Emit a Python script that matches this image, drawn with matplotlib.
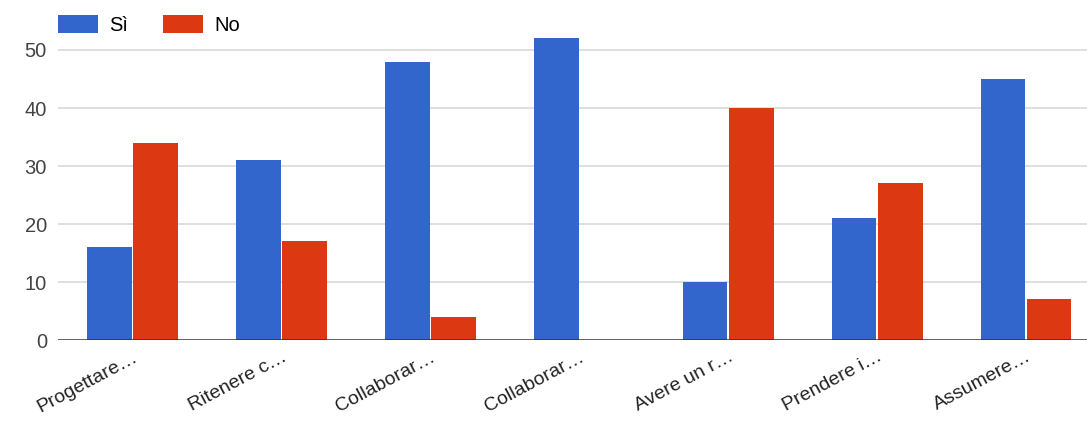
import matplotlib
matplotlib.use("Agg")
import matplotlib.pyplot as plt
import numpy as np

categories = ["Progettare…", "Ritenere c…", "Collaborar…", "Collaborar…",
              "Avere un r…", "Prendere i…", "Assumere…"]
si_values = [16, 31, 48, 52, 10, 21, 45]
no_values = [34, 17, 4, 0, 40, 27, 7]
series_names = ["Sì", "No"]
yticks = [0, 10, 20, 30, 40, 50]

plt.rcParams['font.family'] = ['Liberation Sans', 'DejaVu Sans']

W, H = 1087, 425
fig = plt.figure(figsize=(W / 100, H / 100), dpi=100)
left = 58 / W
bottom = 85 / H
top_px = 21
ax = fig.add_axes([left, bottom, 1 - left, (340 - top_px) / H])

x = np.arange(len(categories))
bw = 0.30
off = 0.155
ax.bar(x - off, si_values, width=bw, color="#3366CC", label=series_names[0], zorder=3)
ax.bar(x + off, no_values, width=bw, color="#DC3912", label=series_names[1], zorder=3)

fs = 14.5
ax.set_ylim(0, 55)
ax.set_xlim(-0.5, (1087 - 132) / 149)
ax.set_yticks(yticks)
ax.set_yticklabels([str(v) for v in yticks], fontsize=fs, color="#444444")
for v in yticks[1:]:
    ax.axhline(v, color="#D9D9D9", lw=1.2, zorder=1)
ax.axhline(0, color="#333333", lw=1.8, zorder=4)

ax.set_xticks(x)
ax.set_xticklabels(categories, rotation=28, ha="right", rotation_mode="anchor",
                   fontsize=14, color="#222222")
ax.tick_params(axis="both", length=0)
ax.tick_params(axis="x", pad=6)
ax.tick_params(axis="y", pad=8)
for s in ax.spines.values():
    s.set_visible(False)

fig.legend(loc="upper left", bbox_to_anchor=(58 / W, 1 - 15 / H), ncol=2,
           frameon=False, fontsize=fs, handlelength=2.0, handleheight=1.0,
           columnspacing=1.7, handletextpad=0.55, borderpad=0, borderaxespad=0)

fig.savefig("out.png", dpi=100)
